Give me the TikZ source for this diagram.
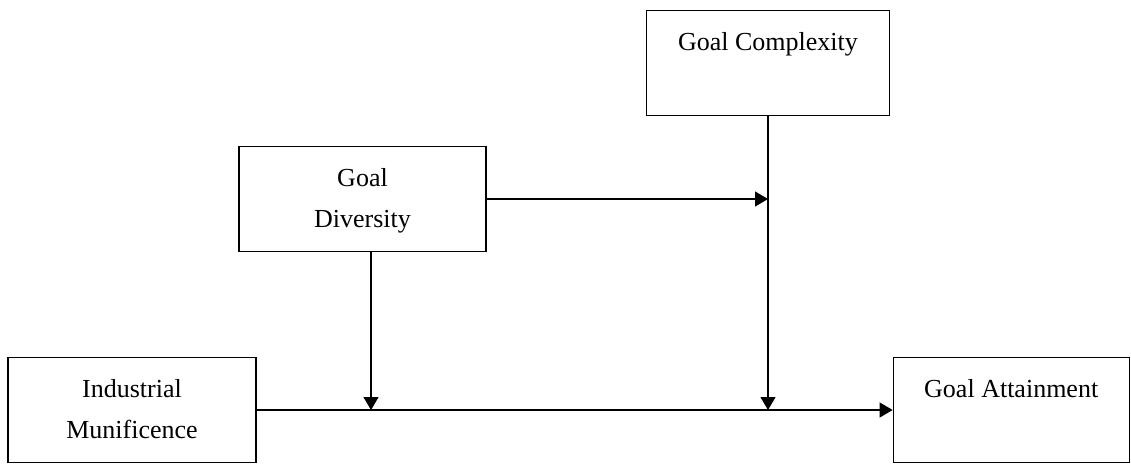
\documentclass[tikz,border=0pt]{standalone}
\usepackage{fontspec}
\setmainfont{Liberation Serif}
\usetikzlibrary{arrows.meta,positioning}

\begin{document}
\begin{tikzpicture}
[x=1pt, y=-1pt, node distance=1cm, font=\fontsize{26}{41}\selectfont,
% STYLES
% The factor style is used to draw the boxes of the model
factor/.style={rectangle, draw, line width=1.2pt, inner sep=0pt, align=center, minimum height=105pt},
% The link style is used to draw the effects between factors
link/.style={line width=1.2pt, -{Triangle[length=13pt, width=15pt]}}]

\useasboundingbox (0,0) rectangle (1131,464);

% Draw factors
\node [factor, minimum width=248pt] (munificence) at (132,410) {Industrial\strut\\Munificence\strut};
\node [factor, minimum width=236pt, right=636pt of munificence] (attainment) {Goal Attainment\strut\\\strut};
\node [factor, minimum width=247pt] (diversity) at (362.5,199) {Goal\strut\\Diversity\strut};
\node [factor, minimum width=243pt] (complexity) at (768,63) {Goal Complexity\strut\\\strut};

% Points where the moderators meet the main effect
\coordinate (mod-diversity) at (371,410);
\coordinate (mod-complexity) at (768,410);

% Draw the links between factors
\draw [link] (munificence) -- (attainment);
\draw [link] (diversity.south -| mod-diversity) -- (mod-diversity);
\draw [link] (complexity) -- (mod-complexity);
\draw [link] (diversity.east) -- (diversity.east -| complexity.south);

\end{tikzpicture}
\end{document}
